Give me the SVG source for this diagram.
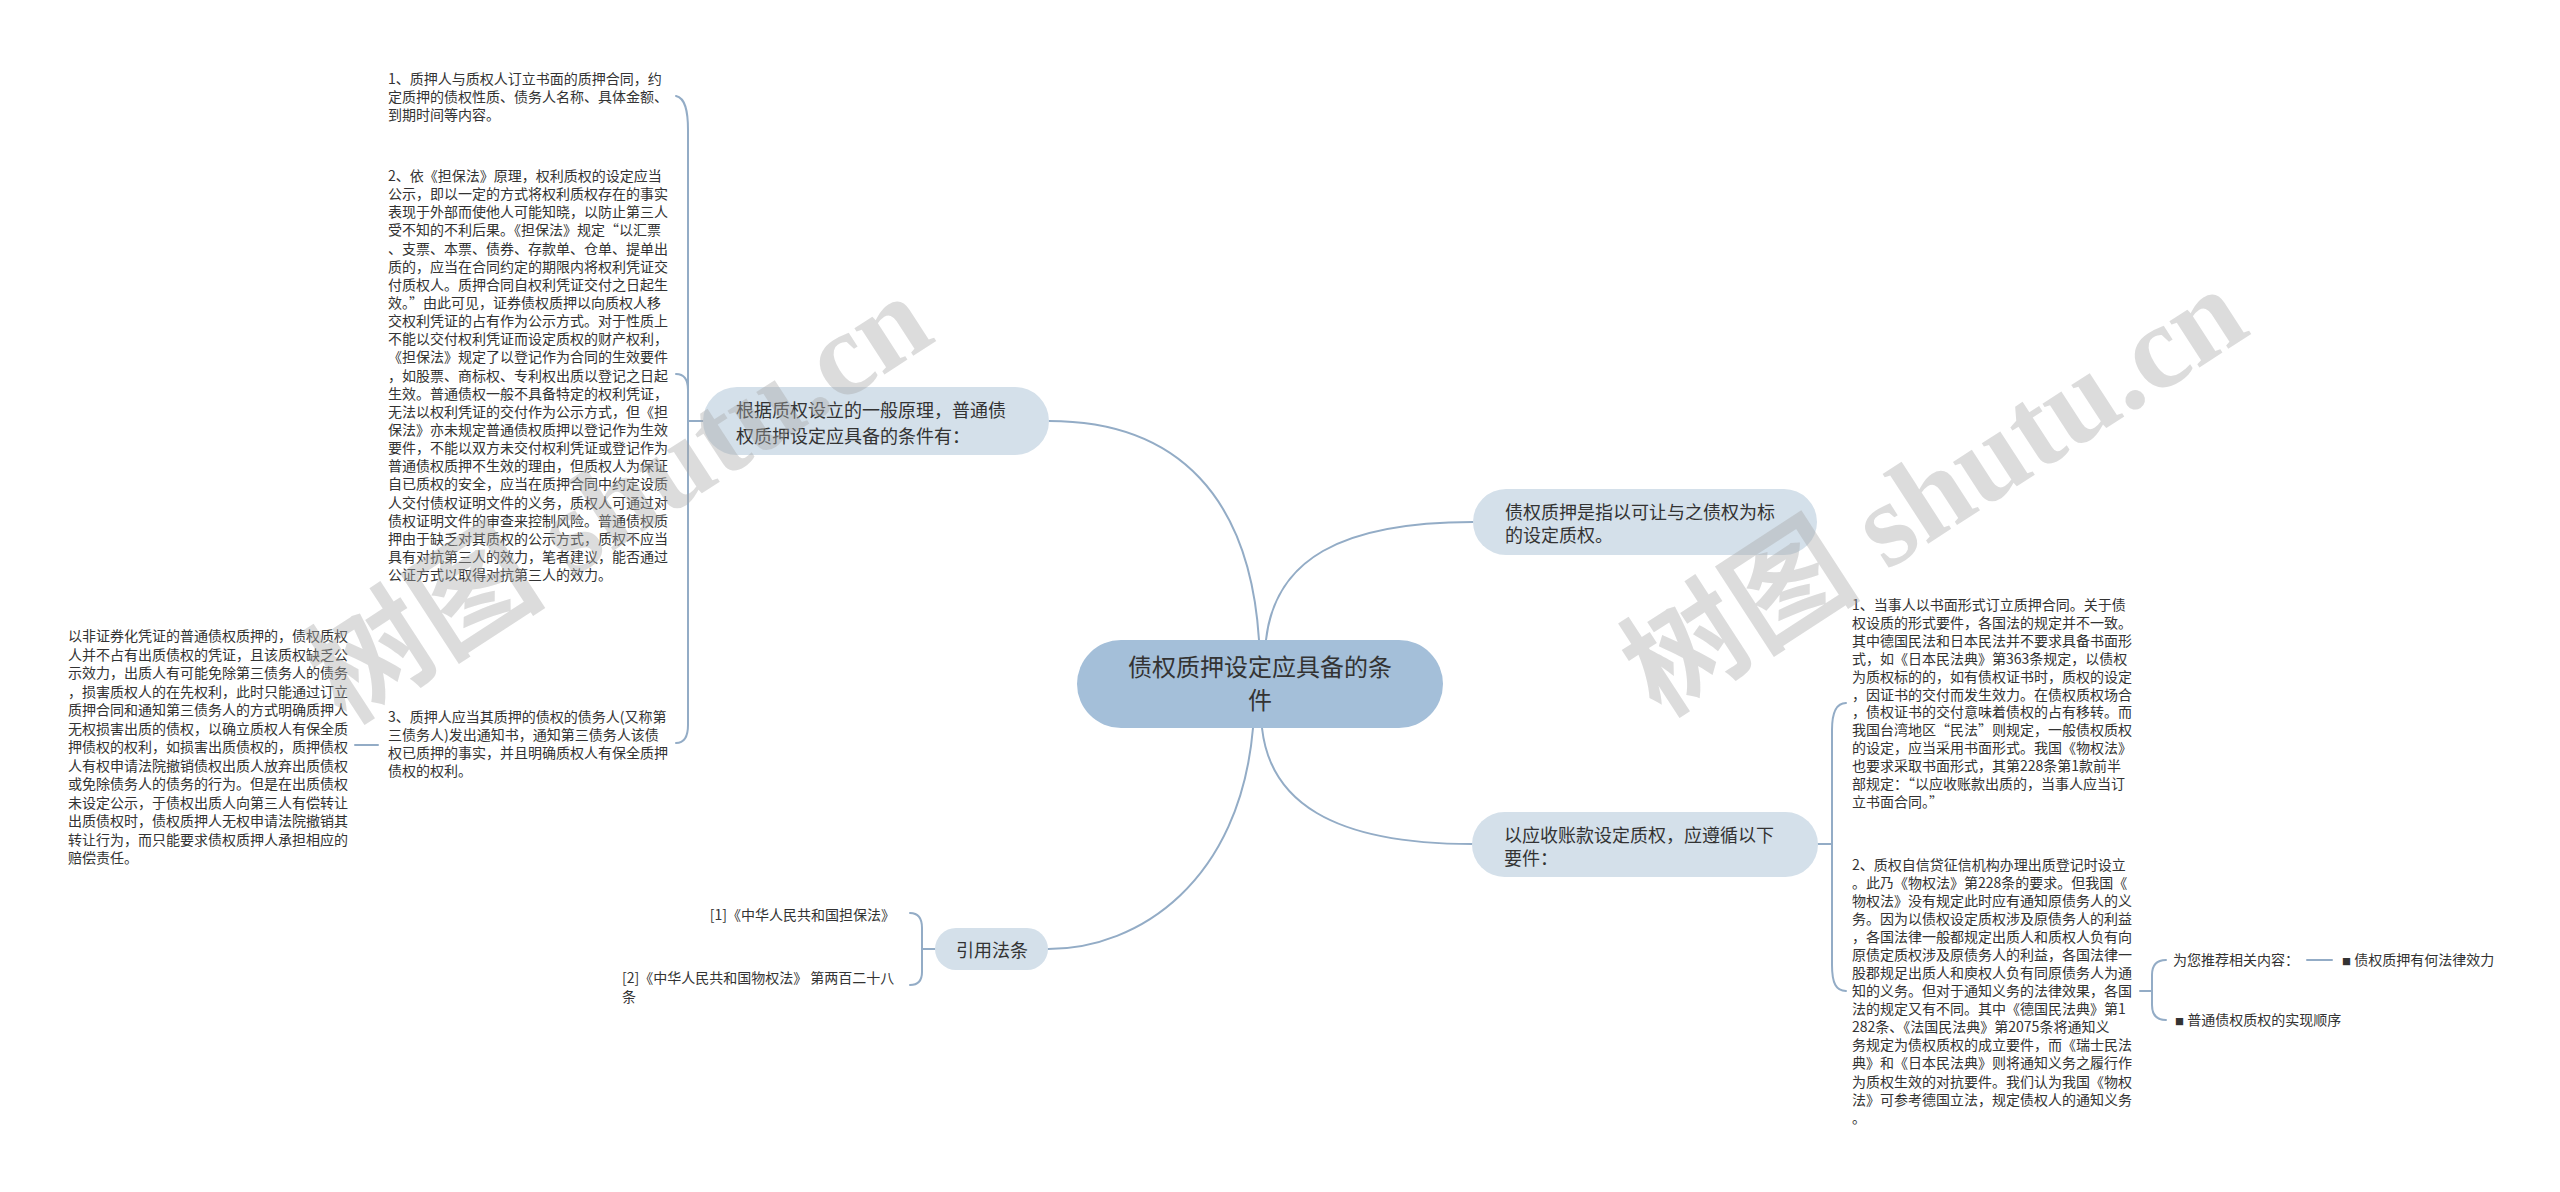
<svg xmlns="http://www.w3.org/2000/svg" width="2560" height="1192" viewBox="0 0 2560 1192">
<style>
.bg{fill:#ffffff}
.root{fill:#a4bfd9}
.sub{fill:#d4e0ea}
.c{fill:none;stroke:#93acc6;stroke-width:2;stroke-linecap:round}
.t{font-family:"Noto Sans CJK SC","Liberation Sans",sans-serif;fill:#333333}
.t14{font-size:14px}
.t18{font-size:18px}
.t24{font-size:24px}
.wm{font-family:"Liberation Serif","Noto Sans CJK SC",serif;font-size:120px;font-weight:bold;fill:#a8a8a8;fill-opacity:0.4}
</style>
<rect class="bg" x="0" y="0" width="2560" height="1192"/>

<g id="connectors">
<path class="c" d="M 1259 640 C 1250 500 1180 421 1049 421"/>
<path class="c" d="M 1266 640 C 1275 560 1340 522 1473 522"/>
<path class="c" d="M 1262 728 C 1270 800 1330 844 1472 844"/>
<path class="c" d="M 1253 728 C 1240 880 1140 949 1048 949"/>
<path class="c" d="M 703 421 H 688"/>
<path class="c" d="M 676 96 C 685 98 688 110 688 130 V 725 C 688 737 684 743 676 743"/>
<path class="c" d="M 676 374 C 684 374 688 379 688 390"/>
<path class="c" d="M 378 745 H 355"/>
<path class="c" d="M 1818 844 H 1832"/>
<path class="c" d="M 1846 703 C 1836 703 1832 712 1832 730 V 965 C 1832 983 1836 991 1846 991"/>
<path class="c" d="M 2140 991 H 2152"/>
<path class="c" d="M 2166 960 C 2156 960 2152 965 2152 975 V 1005 C 2152 1015 2156 1020 2166 1020"/>
<path class="c" d="M 2307 960 H 2332"/>
<path class="c" d="M 935 949 H 922"/>
<path class="c" d="M 910 913 C 918 913 922 918 922 928 V 972 C 922 981 918 985 910 985"/>
</g>

<g id="root">
<rect class="root" x="1077" y="640" width="366" height="88" rx="44"/>
<text class="t t24" text-anchor="middle"><tspan x="1260" y="676">债权质押设定应具备的条</tspan><tspan x="1260" y="709">件</tspan></text>
</g>

<g id="node-general">
<rect class="sub" x="703" y="387" width="346" height="68" rx="34"/>
<text class="t t18"><tspan x="736" y="417">根据质权设立的一般原理，普通债</tspan><tspan x="736" y="443">权质押设定应具备的条件有：</tspan></text>
</g>

<g id="node-definition">
<rect class="sub" x="1473" y="489" width="344" height="66" rx="33"/>
<text class="t t18"><tspan x="1505" y="519">债权质押是指以可让与之债权为标</tspan><tspan x="1505" y="542">的设定质权。</tspan></text>
</g>

<g id="node-receivable">
<rect class="sub" x="1472" y="812" width="346" height="65" rx="32.5"/>
<text class="t t18"><tspan x="1504" y="842">以应收账款设定质权，应遵循以下</tspan><tspan x="1504" y="865">要件：</tspan></text>
</g>

<g id="node-law">
<rect class="sub" x="935" y="928" width="113" height="42" rx="21"/>
<text class="t t18" x="992" y="957" text-anchor="middle">引用法条</text>
</g>

<g id="child-a">
<text class="t t14"><tspan x="388" y="84">1、质押人与质权人订立书面的质押合同，约</tspan><tspan x="388" y="102">定质押的债权性质、债务人名称、具体金额、</tspan><tspan x="388" y="120">到期时间等内容。</tspan></text>
</g>

<g id="child-b">
<text class="t t14"><tspan x="388" y="181">2、依《担保法》原理，权利质权的设定应当</tspan><tspan x="388" y="199.1">公示，即以一定的方式将权利质权存在的事实</tspan><tspan x="388" y="217.3">表现于外部而使他人可能知晓，以防止第三人</tspan><tspan x="388" y="235.4">受不知的不利后果。《担保法》规定“以汇票</tspan><tspan x="388" y="253.6">、支票、本票、债券、存款单、仓单、提单出</tspan><tspan x="388" y="271.7">质的，应当在合同约定的期限内将权利凭证交</tspan><tspan x="388" y="289.8">付质权人。质押合同自权利凭证交付之日起生</tspan><tspan x="388" y="308">效。”由此可见，证券债权质押以向质权人移</tspan><tspan x="388" y="326.1">交权利凭证的占有作为公示方式。对于性质上</tspan><tspan x="388" y="344.3">不能以交付权利凭证而设定质权的财产权利，</tspan><tspan x="388" y="362.4">《担保法》规定了以登记作为合同的生效要件</tspan><tspan x="388" y="380.5">，如股票、商标权、专利权出质以登记之日起</tspan><tspan x="388" y="398.7">生效。普通债权一般不具备特定的权利凭证，</tspan><tspan x="388" y="416.8">无法以权利凭证的交付作为公示方式，但《担</tspan><tspan x="388" y="435">保法》亦未规定普通债权质押以登记作为生效</tspan><tspan x="388" y="453.1">要件，不能以双方未交付权利凭证或登记作为</tspan><tspan x="388" y="471.2">普通债权质押不生效的理由，但质权人为保证</tspan><tspan x="388" y="489.4">自已质权的安全，应当在质押合同中约定设质</tspan><tspan x="388" y="507.5">人交付债权证明文件的义务，质权人可通过对</tspan><tspan x="388" y="525.7">债权证明文件的审查来控制风险。普通债权质</tspan><tspan x="388" y="543.8">押由于缺乏对其质权的公示方式，质权不应当</tspan><tspan x="388" y="561.9">具有对抗第三人的效力，笔者建议，能否通过</tspan><tspan x="388" y="580.1">公证方式以取得对抗第三人的效力。</tspan></text>
</g>

<g id="child-c">
<text class="t t14"><tspan x="388" y="722">3、质押人应当其质押的债权的债务人(又称第</tspan><tspan x="388" y="740">三债务人)发出通知书，通知第三债务人该债</tspan><tspan x="388" y="758">权已质押的事实，并且明确质权人有保全质押</tspan><tspan x="388" y="776">债权的权利。</tspan></text>
</g>

<g id="child-d">
<text class="t t14"><tspan x="68" y="641">以非证券化凭证的普通债权质押的，债权质权</tspan><tspan x="68" y="659.5">人并不占有出质债权的凭证，且该质权缺乏公</tspan><tspan x="68" y="678">示效力，出质人有可能免除第三债务人的债务</tspan><tspan x="68" y="696.5">，损害质权人的在先权利，此时只能通过订立</tspan><tspan x="68" y="715">质押合同和通知第三债务人的方式明确质押人</tspan><tspan x="68" y="733.5">无权损害出质的债权，以确立质权人有保全质</tspan><tspan x="68" y="752">押债权的权利，如损害出质债权的，质押债权</tspan><tspan x="68" y="770.5">人有权申请法院撤销债权出质人放弃出质债权</tspan><tspan x="68" y="789">或免除债务人的债务的行为。但是在出质债权</tspan><tspan x="68" y="807.5">未设定公示，于债权出质人向第三人有偿转让</tspan><tspan x="68" y="826">出质债权时，债权质押人无权申请法院撤销其</tspan><tspan x="68" y="844.5">转让行为，而只能要求债权质押人承担相应的</tspan><tspan x="68" y="863">赔偿责任。</tspan></text>
</g>

<g id="child-r1">
<text class="t t14"><tspan x="1852" y="610">1、当事人以书面形式订立质押合同。关于债</tspan><tspan x="1852" y="627.9">权设质的形式要件，各国法的规定并不一致。</tspan><tspan x="1852" y="645.8">其中德国民法和日本民法并不要求具备书面形</tspan><tspan x="1852" y="663.7">式，如《日本民法典》第363条规定，以债权</tspan><tspan x="1852" y="681.6">为质权标的的，如有债权证书时，质权的设定</tspan><tspan x="1852" y="699.5">，因证书的交付而发生效力。在债权质权场合</tspan><tspan x="1852" y="717.4">，债权证书的交付意味着债权的占有移转。而</tspan><tspan x="1852" y="735.3">我国台湾地区“民法”则规定，一般债权质权</tspan><tspan x="1852" y="753.2">的设定，应当采用书面形式。我国《物权法》</tspan><tspan x="1852" y="771.1">也要求采取书面形式，其第228条第1款前半</tspan><tspan x="1852" y="789">部规定：“以应收账款出质的，当事人应当订</tspan><tspan x="1852" y="806.9">立书面合同。”</tspan></text>
</g>

<g id="child-r2">
<text class="t t14"><tspan x="1852" y="870">2、质权自信贷征信机构办理出质登记时设立</tspan><tspan x="1852" y="888">。此乃《物权法》第228条的要求。但我国《</tspan><tspan x="1852" y="906.1">物权法》没有规定此时应有通知原债务人的义</tspan><tspan x="1852" y="924.1">务。因为以债权设定质权涉及原债务人的利益</tspan><tspan x="1852" y="942.2">，各国法律一般都规定出质人和质权人负有向</tspan><tspan x="1852" y="960.2">原债定质权涉及原债务人的利益，各国法律一</tspan><tspan x="1852" y="978.2">股郡规足出质人和庾权人负有同原债务人为通</tspan><tspan x="1852" y="996.3">知的义务。但对于通知义务的法律效果，各国</tspan><tspan x="1852" y="1014.3">法的规定又有不同。其中《德国民法典》第1</tspan><tspan x="1852" y="1032.4">282条、《法国民法典》第2075条将通知义</tspan><tspan x="1852" y="1050.4">务规定为债权质权的成立要件，而《瑞士民法</tspan><tspan x="1852" y="1068.4">典》和《日本民法典》则将通知义务之履行作</tspan><tspan x="1852" y="1086.5">为质权生效的对抗要件。我们认为我国《物权</tspan><tspan x="1852" y="1104.5">法》可参考德国立法，规定债权人的通知义务</tspan><tspan x="1852" y="1122.6">。</tspan></text>
</g>

<g id="recommend">
<text class="t t14" x="2173" y="965">为您推荐相关内容：</text>
</g>
<g id="recommend-1">
<text class="t t14" x="2342" y="965"><tspan font-size="9">■</tspan> 债权质押有何法律效力</text>
</g>
<g id="recommend-2">
<text class="t t14" x="2175" y="1025"><tspan font-size="9">■</tspan> 普通债权质权的实现顺序</text>
</g>

<g id="ref-1">
<text class="t t14" x="895" y="920" text-anchor="end">[1]《中华人民共和国担保法》</text>
</g>
<g id="ref-2">
<text class="t t14"><tspan x="622" y="983">[2]《中华人民共和国物权法》 第两百二十八</tspan><tspan x="622" y="1002">条</tspan></text>
</g>

<g id="watermarks">
<text class="wm" x="345" y="725" transform="rotate(-33 345 725)">树图 shutu.cn</text>
<text class="wm" x="1660" y="718" transform="rotate(-33 1660 718)">树图 shutu.cn</text>
</g>
</svg>
